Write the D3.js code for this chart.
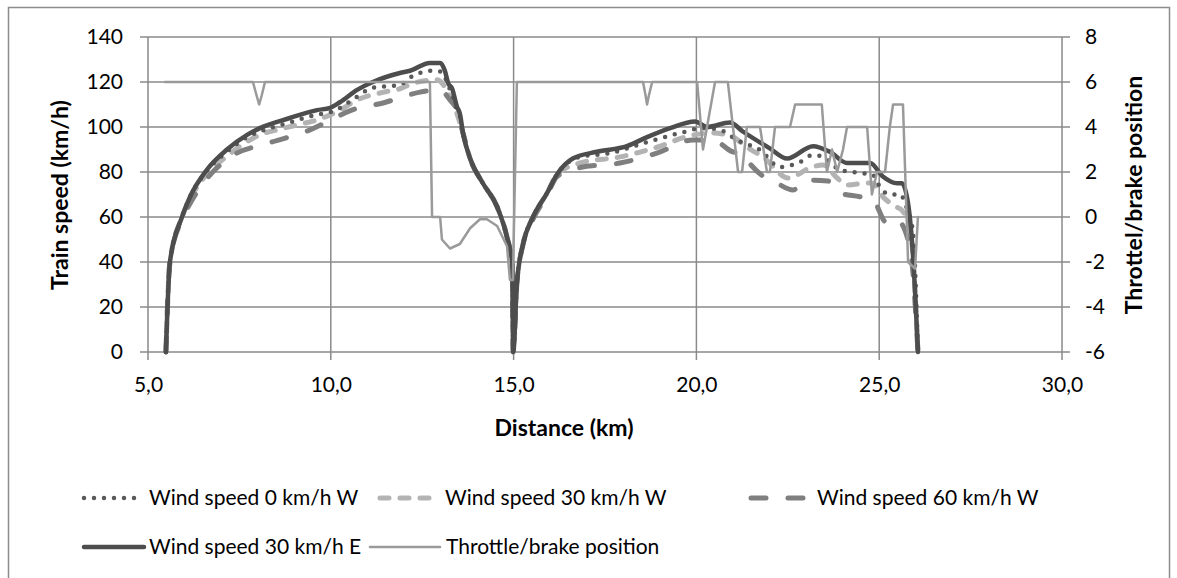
<!DOCTYPE html>
<html>
<head>
<meta charset="utf-8">
<script src="https://cdn.jsdelivr.net/npm/d3@7"></script>
<style>
    body { margin: 0; background: #ffffff; }
    svg text { font-family: Lato, "Open Sans", sans-serif; fill: #000000; }
</style>
</head>
<body>
<div id="chart-location"></div>
<script>
// (DATA) distance in km, speed in km/h, throttle position
var distE = [5.49, 5.60, 5.93, 6.15, 6.61, 7.16, 7.71, 8.06, 8.88, 9.62, 9.98, 10.25, 10.72, 11.15, 11.89, 12.17, 12.71, 12.99, 13.12, 13.21, 13.32, 13.45, 13.53, 13.62, 13.81, 14.16, 14.55, 14.82, 14.96, 14.99, 15.09, 15.26, 15.53, 15.91, 16.19, 16.62, 17.28, 18.10, 18.65, 19.28, 19.96, 20.29, 20.92, 21.27, 22.01, 22.48, 23.19, 23.65, 24.12, 24.75, 25.10, 25.49, 25.62, 25.79, 25.92, 26.06];
var speedE = [0, 40, 60, 69, 81, 90, 96.5, 99.5, 104, 107.5, 108.5, 111, 116.5, 120, 124, 125, 128.5, 128.5, 125, 119.5, 117, 109, 106, 97, 86, 75, 64.5, 51, 39.5, 0, 30.5, 48, 60, 70.5, 79, 86, 89, 91.5, 95.5, 99.5, 102.5, 100, 102, 98, 90.5, 86, 91.5, 89, 84, 84, 78, 75, 75, 66, 44, 0];

var dist0 = [5.49, 5.60, 5.93, 6.15, 6.61, 7.16, 7.71, 8.06, 8.88, 9.62, 9.98, 10.25, 10.72, 11.15, 11.89, 12.17, 12.77, 13.04, 13.15, 13.25, 13.35, 13.45, 13.53, 13.62, 13.81, 14.16, 14.55, 14.82, 14.96, 14.99, 15.09, 15.26, 15.53, 15.91, 16.19, 16.82, 17.64, 18.65, 19.55, 20.18, 20.65, 21.11, 21.74, 22.29, 22.83, 23.19, 23.46, 23.93, 24.47, 24.83, 25.02, 25.30, 25.57, 25.76, 25.92, 26.06];
var speed0 = [0, 40, 60, 69, 80.5, 89, 95.5, 98, 102, 105.5, 106.5, 108.5, 113.5, 117.5, 118.7, 122, 125, 124.5, 121, 117, 113, 108, 105, 97, 86, 75, 64.5, 51, 39.5, 0, 30.5, 48, 60, 70.5, 79, 86.7, 88.4, 93.3, 97.3, 99.5, 98.7, 94.2, 89.8, 82.2, 84.4, 87.6, 86.7, 81, 79.6, 78.7, 73.3, 70, 70, 63.6, 54, 0];

var dist30 = [5.49, 5.60, 5.93, 6.15, 6.61, 7.16, 7.71, 8.06, 8.60, 9.10, 9.60, 10.25, 10.72, 11.45, 11.89, 12.26, 12.90, 13.17, 13.45, 13.62, 13.81, 14.16, 14.55, 14.82, 14.96, 14.99, 15.09, 15.26, 15.53, 15.91, 16.19, 16.82, 17.91, 18.92, 19.90, 20.45, 20.99, 21.38, 21.82, 22.52, 23.15, 23.46, 23.85, 24.12, 24.67, 24.83, 25.10, 25.48, 25.62, 25.84, 26.06];
var speed30 = [0, 40, 60, 68, 79, 87, 93.5, 96.5, 99, 101, 103, 107.5, 112, 115.5, 117, 119.5, 121, 116.5, 106, 97, 86, 75, 64.5, 51, 39.5, 0, 30.5, 48, 60, 70.5, 79, 84, 86.7, 91, 96.4, 97.3, 95.6, 91, 86.7, 77.3, 82.2, 83.1, 77.3, 74.2, 75.1, 75, 69, 64.4, 63, 55.5, 0];

var dist60 = [5.49, 5.60, 5.93, 6.15, 6.61, 7.24, 8.33, 9.40, 9.86, 10.57, 11.50, 11.89, 12.44, 12.99, 13.26, 13.45, 13.62, 13.81, 14.16, 14.55, 14.82, 14.96, 14.99, 15.09, 15.26, 15.53, 15.91, 16.19, 16.82, 17.91, 18.92, 19.90, 20.45, 20.99, 21.25, 21.50, 21.93, 22.20, 22.64, 23.02, 23.60, 23.93, 24.47, 24.83, 25.21, 25.48, 25.84, 26.06];
var speed60 = [0, 40, 59, 66, 77, 86.5, 93, 98.5, 102, 107.5, 111, 113, 115.5, 116.5, 112, 107.5, 97, 86, 75, 64.5, 51, 39.5, 0, 30.5, 48, 59, 69.5, 78, 82, 84, 88.4, 94.2, 94.2, 89, 88.4, 83, 77, 75, 72, 76.4, 76, 70.7, 69, 67.5, 57.3, 58.7, 46.7, 0];

var distThrottle = [5.465, 7.87, 7.97, 8.04, 8.11, 8.20, 12.71, 12.77, 12.99, 13.04, 13.26, 13.53, 13.81, 14.08, 14.27, 14.55, 14.82, 14.90, 14.98, 15.09, 18.54, 18.61, 18.65, 18.70, 18.79, 20.02, 20.18, 20.51, 20.86, 21.14, 21.25, 21.38, 21.74, 21.93, 22.01, 22.15, 22.56, 22.70, 23.43, 23.57, 23.71, 23.85, 24.01, 24.12, 24.67, 24.80, 24.94, 25.16, 25.29, 25.38, 25.65, 25.79, 25.98, 26.06];
var throttle = [6, 6, 5.4, 5, 5.4, 6, 6, 0, 0, -1, -1.4, -1.2, -0.5, -0.1, -0.1, -0.4, -1.3, -2.8, -2.8, 6, 6, 5.4, 5, 5.4, 6, 6, 3, 6, 6, 2, 2, 4, 4, 2, 2, 4, 4, 5, 5, 2, 3, 2, 3, 4, 4, 1, 2, 2, 4, 5, 5, -2, -2.3, 0];

// (TICKS) tick values for the three axes
var xTicks = [5, 10, 15, 20, 25, 30];
var ySpeedTicks = [0, 20, 40, 60, 80, 100, 120, 140];
var yThrottleTicks = [-6, -4, -2, 0, 2, 4, 6, 8];

// (LEGEND) labels in legend order
var legendLabels = ["Wind speed 0 km/h W", "Wind speed 30 km/h W", "Wind speed 60 km/h W", "Wind speed 30 km/h E", "Throttle/brake position"];

function init () {

    // (VARIABLES) svg size and plot area
    var w = 1177;
    var h = 578;
    var left = 148, right = 1062, top = 37, bottom = 352;
    var gridColor = "#8a8a8a";
    var fontSize = 21;
    var titleSize = 23;

    var svg = d3.select("#chart-location")
        .append("svg")
        .attr("width", w)
        .attr("height", h);

    // chart border
    svg.append("rect")
        .attr("x", 8.5).attr("y", 7.5)
        .attr("width", 1161).attr("height", 580)
        .attr("fill", "none")
        .attr("stroke", "#8c8c8c")
        .attr("stroke-width", 1.5);

    // (SCALES)
    var xScale = d3.scaleLinear().domain([5, 30]).range([left, right]);
    var yScale = d3.scaleLinear().domain([0, 140]).range([bottom, top]);
    var y2Scale = d3.scaleLinear().domain([-6, 8]).range([bottom, top]);

    // (GRID) horizontal lines
    svg.append("g")
        .selectAll("line")
        .data(ySpeedTicks)
        .enter()
        .append("line")
        .attr("x1", left - 8)
        .attr("x2", right + 8)
        .attr("y1", function(d) { return yScale(d); })
        .attr("y2", function(d) { return yScale(d); })
        .attr("stroke", gridColor)
        .attr("stroke-width", 1.5);

    // (GRID) vertical lines, run past the bottom as tick marks
    svg.append("g")
        .selectAll("line")
        .data(xTicks)
        .enter()
        .append("line")
        .attr("x1", function(d) { return xScale(d); })
        .attr("x2", function(d) { return xScale(d); })
        .attr("y1", top)
        .attr("y2", bottom + 8)
        .attr("stroke", gridColor)
        .attr("stroke-width", 1.5);

    // (AXES) tick labels
    var xAxis = d3.axisBottom(xScale)
        .tickValues(xTicks)
        .tickSize(0)
        .tickPadding(25)
        .tickFormat(function(d) { return d3.format(".1f")(d).replace(".", ","); });
    svg.append("g")
        .attr("transform", "translate(0," + bottom + ")")
        .call(xAxis);

    var yAxis = d3.axisLeft(yScale)
        .tickValues(ySpeedTicks)
        .tickSize(0)
        .tickPadding(25);
    svg.append("g")
        .attr("transform", "translate(" + left + ",0)")
        .call(yAxis);

    var y2Axis = d3.axisRight(y2Scale)
        .tickValues(yThrottleTicks)
        .tickSize(0)
        .tickPadding(23)
        .tickFormat(function(d) { return String(d); });
    svg.append("g")
        .attr("transform", "translate(" + right + ",0)")
        .call(y2Axis);

    svg.selectAll(".domain").remove();
    svg.selectAll(".tick text")
        .attr("font-size", fontSize)
        .attr("font-family", "Lato, sans-serif")
        .attr("fill", "#000");

    // (AXIS TITLES)
    svg.append("text")
        .attr("transform", "translate(68,195) rotate(-90)")
        .attr("text-anchor", "middle")
        .attr("font-size", titleSize)
        .attr("font-weight", "bold")
        .text("Train speed (km/h)");

    svg.append("text")
        .attr("transform", "translate(1142,195) rotate(-90)")
        .attr("text-anchor", "middle")
        .attr("font-size", titleSize)
        .attr("font-weight", "bold")
        .text("Throttel/brake position");

    svg.append("text")
        .attr("x", 564)
        .attr("y", 436)
        .attr("text-anchor", "middle")
        .attr("font-size", titleSize)
        .attr("font-weight", "bold")
        .text("Distance (km)");

    // (SERIES) styles for each line
    var series = [
        { xs: dist30, ys: speed30, scale: yScale, color: "#b3b3b3", width: 5, dash: "9 11", curve: d3.curveMonotoneX },
        { xs: dist60, ys: speed60, scale: yScale, color: "#7f7f7f", width: 5, dash: "15 22", curve: d3.curveMonotoneX },
        { xs: dist0, ys: speed0, scale: yScale, color: "#595959", width: 4.5, dash: "0 10", curve: d3.curveMonotoneX },
        { xs: distE, ys: speedE, scale: yScale, color: "#4d4d4d", width: 4.5, dash: null, curve: d3.curveMonotoneX },
        { xs: distThrottle, ys: throttle, scale: y2Scale, color: "#9a9a9a", width: 2.5, dash: null, curve: d3.curveLinear }
    ];

    series.forEach(function(s) {
        var points = s.xs.map(function(x, i) { return [x, s.ys[i]]; });
        var line = d3.line()
            .x(function(d) { return xScale(d[0]); })
            .y(function(d) { return s.scale(d[1]); })
            .curve(s.curve);
        svg.append("path")
            .datum(points)
            .attr("d", line)
            .attr("fill", "none")
            .attr("stroke", s.color)
            .attr("stroke-width", s.width)
            .attr("stroke-linecap", "round")
            .attr("stroke-linejoin", "round")
            .attr("stroke-dasharray", s.dash);
    });

    // (LEGEND) sample positions per entry
    var legendItems = [
        { x1: 84, x2: 138, y: 498, textX: 149, style: series[2] },
        { x1: 380, x2: 432, y: 498, textX: 445, style: series[0] },
        { x1: 751, x2: 803, y: 498, textX: 817, style: series[1] },
        { x1: 84, x2: 144, y: 547, textX: 149, style: series[3] },
        { x1: 370, x2: 440, y: 547, textX: 446, style: series[4] }
    ];

    var legend = svg.append("g").selectAll("g")
        .data(legendItems)
        .enter()
        .append("g");

    legend.append("line")
        .attr("x1", function(d) { return d.x1; })
        .attr("x2", function(d) { return d.x2; })
        .attr("y1", function(d) { return d.y; })
        .attr("y2", function(d) { return d.y; })
        .attr("stroke", function(d) { return d.style.color; })
        .attr("stroke-width", function(d) { return d.style.width; })
        .attr("stroke-linecap", "round")
        .attr("stroke-dasharray", function(d) { return d.style.dash; });

    legend.append("text")
        .attr("x", function(d) { return d.textX; })
        .attr("y", function(d) { return d.y; })
        .attr("dy", "0.35em")
        .attr("font-size", fontSize)
        .text(function(d, i) { return legendLabels[i]; });
}

window.onload = init;
</script>
</body>
</html>
